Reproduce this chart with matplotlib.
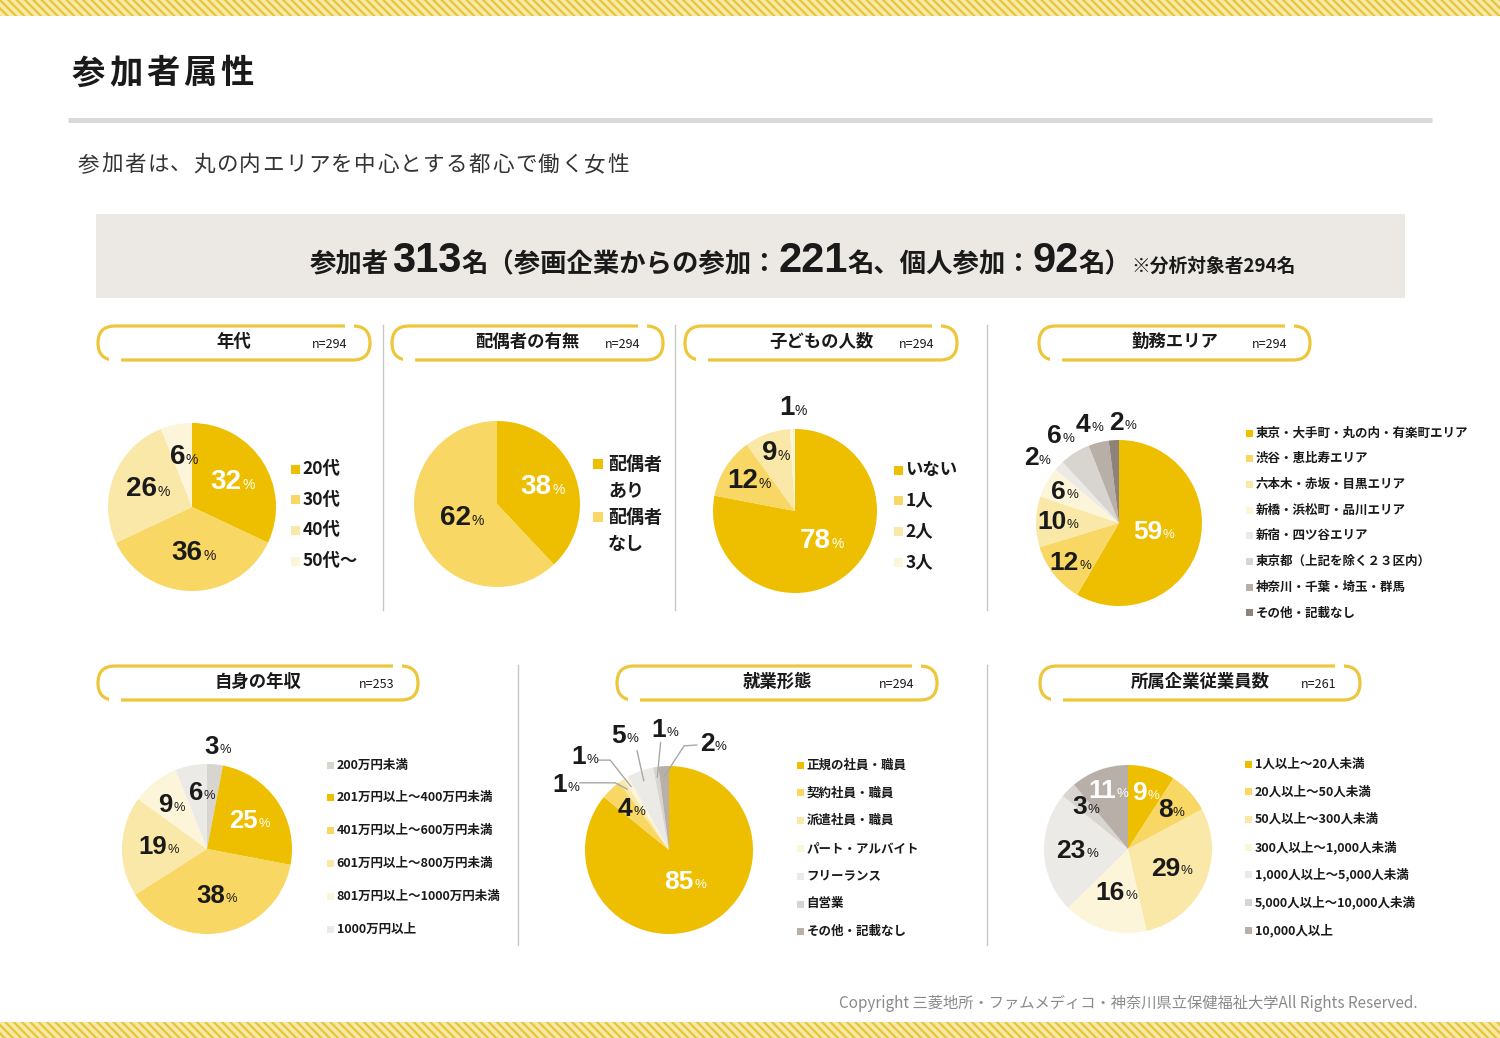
import matplotlib
matplotlib.use('Agg')
import matplotlib.pyplot as plt
from matplotlib.patches import Rectangle, FancyBboxPatch
import numpy as np

# ---------------- data ----------------
total_participants = 313
corporate_participants = 221
individual_participants = 92
analyzed_participants = 294

age_labels = ['20代', '30代', '40代', '50代～']
age_values = [32, 36, 26, 6]
age_n = 294

spouse_labels = ['配偶者\nあり', '配偶者\nなし']
spouse_values = [38, 62]
spouse_n = 294

child_labels = ['いない', '1人', '2人', '3人']
child_values = [78, 12, 9, 1]
child_n = 294

area_labels = ['東京・大手町・丸の内・有楽町エリア', '渋谷・恵比寿エリア', '六本木・赤坂・目黒エリア',
               '新橋・浜松町・品川エリア', '新宿・四ツ谷エリア', '東京都（上記を除く２３区内）',
               '神奈川・千葉・埼玉・群馬', 'その他・記載なし']
area_values = [59, 12, 10, 6, 2, 6, 4, 2]
area_n = 294

income_labels = ['200万円未満', '201万円以上～400万円未満', '401万円以上～600万円未満',
                 '601万円以上～800万円未満', '801万円以上～1000万円未満', '1000万円以上']
income_values = [3, 25, 38, 19, 9, 6]
income_n = 253

job_labels = ['正規の社員・職員', '契約社員・職員', '派遣社員・職員', 'パート・アルバイト',
              'フリーランス', '自営業', 'その他・記載なし']
job_values = [85, 4, 1, 1, 5, 1, 2]
job_n = 294

size_labels = ['1人以上～20人未満', '20人以上～50人未満', '50人以上～300人未満',
               '300人以上～1,000人未満', '1,000人以上～5,000人未満',
               '5,000人以上～10,000人未満', '10,000人以上']
size_values = [9, 8, 29, 16, 23, 3, 11]
size_n = 261

# ---------------- style ----------------
W, H = 1500, 1038
plt.rcParams['font.family'] = ['Noto Sans CJK JP', 'DejaVu Sans']
plt.rcParams['hatch.linewidth'] = 1.6
NUMF = ['Liberation Sans', 'DejaVu Sans']

DARK = '#EDBF00'
MED = '#F8D764'
LIGHT = '#FAE8A8'
VLIGHT = '#FDF5DA'
G1 = '#ECEAE7'
G2 = '#D8D4D0'
G3 = '#B8AFA8'
G4 = '#8F8279'
PILL = '#EEC63C'
TXT = '#1a1a1a'

fig = plt.figure(figsize=(W / 100, H / 100), dpi=100)
bg = fig.add_axes([0, 0, 1, 1])
bg.set_xlim(0, W)
bg.set_ylim(H, 0)
bg.axis('off')

# stripes
for y0 in (0, 1022):
    bg.add_patch(Rectangle((0, y0), W, 16, facecolor='#F6E8A6', edgecolor='#E6C53A',
                           hatch='\\\\\\\\', lw=0))

# title
for i, ch in enumerate('参加者属性'):
    bg.text(72 + i * 37, 74, ch, fontsize=24, fontweight='bold', va='center', ha='left', color=TXT)
bg.plot([68, 1432], [120, 120], color='#D9D9D9', lw=3.5, solid_capstyle='butt')
for i, ch in enumerate('参加者は、丸の内エリアを中心とする都心で働く女性'):
    bg.text(78 + i * 23, 165, ch, fontsize=15.5, va='center', ha='left', color='#333333')

# header box
bg.add_patch(Rectangle((96, 214), 1309, 84, facecolor='#ECE9E5', lw=0))
fig.canvas.draw()
renderer = fig.canvas.get_renderer()
parts = [
    ('参加者', 19, None), (' ', 10, None), (str(total_participants), 30, NUMF),
    ('名（参画企業からの参加：', 19, None), (str(corporate_participants), 30, NUMF),
    ('名、個人参加：', 19, None), (str(individual_participants), 30, NUMF),
    ('名）', 19, None), ('※分析対象者' + str(analyzed_participants) + '名', 13.5, None),
]
x = 310
for t, s, fam in parts:
    kw = dict(fontsize=s, fontweight='bold', va='baseline', ha='left', color=TXT)
    if fam:
        kw['family'] = fam
    tx = bg.text(x, 272, t, **kw)
    x += tx.get_window_extent(renderer).width


# section pills
def pill(x0, x1, yc, title, n, h=34):
    bg.add_patch(FancyBboxPatch((x0, yc - h / 2), x1 - x0, h,
                                boxstyle=f"round,pad=0,rounding_size={h / 2}",
                                facecolor='white', edgecolor=PILL, lw=2.3))
    bg.add_patch(Rectangle((x1 - 25, yc - h / 2 - 3), 9, 6, facecolor='white', lw=0))
    bg.add_patch(Rectangle((x0 + 11, yc + h / 2 - 3), 12, 6, facecolor='white', lw=0))
    bg.text((x0 + x1) / 2, yc - 1, title, fontsize=12.5, fontweight='bold', ha='center',
            va='center', color=TXT)
    bg.text(x1 - 23, yc + 2, f'n={n}', fontsize=9, ha='right', va='center', color=TXT)


pill(98, 370, 343, '年代', age_n)
pill(392, 663, 343, '配偶者の有無', spouse_n)
pill(685, 957, 343, '子どもの人数', child_n)
pill(1039, 1310, 343, '勤務エリア', area_n)
pill(98, 418, 683, '自身の年収', income_n)
pill(617, 937, 683, '就業形態', job_n)
pill(1040, 1360, 683, '所属企業従業員数', size_n)

# dividers
for xd, ya, yb in [(383, 325, 610), (675, 325, 610), (987, 325, 610), (518, 665, 945), (987, 665, 945)]:
    bg.plot([xd, xd], [ya, yb], color='#C8C8C8', lw=1)

# footer
bg.text(1418, 1003, 'Copyright 三菱地所・ファムメディコ・神奈川県立保健福祉大学All Rights Reserved.',
        fontsize=11, ha='right', va='center', color='#8a8a8a')


def pct_label(ax, x, y, v, color, size=20):
    t = ax.annotate(str(v), (x, y), xytext=(-3.5, 0), textcoords='offset points', ha='center',
                    va='center', fontsize=size, fontweight='bold', family=NUMF, color=color,
                    annotation_clip=False)
    ax.annotate('%', xy=(1, 0), xycoords=t, xytext=(0.3, 2.2), textcoords='offset points',
                ha='left', va='bottom', fontsize=size * 0.5, family=NUMF, color=color,
                annotation_clip=False)


def draw_pie(cx, cy, r, values, colors, lab_colors, dists, size=20, skip=(), pos=None):
    ax = fig.add_axes([(cx - r) / W, 1 - (cy + r) / H, 2 * r / W, 2 * r / H])
    wedges, _ = ax.pie(values, colors=colors, startangle=90, counterclock=False,
                       wedgeprops=dict(linewidth=0))
    ax.set_xlim(-1, 1)
    ax.set_ylim(-1, 1)
    ax.set_aspect('equal')
    ax.axis('off')
    pos = pos or {}
    mids = []
    for i, (w, v) in enumerate(zip(wedges, values)):
        mid = np.deg2rad((w.theta1 + w.theta2) / 2)
        mids.append(mid)
        if i in skip:
            continue
        if i in pos:
            px, py = pos[i]
        else:
            px, py = dists[i] * np.cos(mid), dists[i] * np.sin(mid)
        pct_label(ax, px, py, v, lab_colors[i], size)
    return ax, mids


def legend(x, y0, step, labels, colors, size=9, msize=8, gap=3, line_step=27):
    for i, (lab, col) in enumerate(zip(labels, colors)):
        y = y0 + i * step
        bg.add_patch(Rectangle((x - msize / 2, y - msize / 2), msize, msize, facecolor=col, lw=0))
        for j, line in enumerate(lab.split('\n')):
            bg.text(x + msize / 2 + gap, y + j * line_step, line, fontsize=size, fontweight='bold',
                    ha='left', va='center', color=TXT)


W_ = 'white'
K_ = TXT

# pie 1 年代
c1 = [DARK, MED, LIGHT, VLIGHT]
draw_pie(192, 507, 84, age_values, c1, [W_, K_, K_, K_], [0.55, 0.55, 0.58, 0.6])
legend(295, 469, 30.7, age_labels, c1, size=12.5, msize=9, gap=3)

# pie 2 配偶者
c2 = [DARK, MED]
draw_pie(497, 504, 83, spouse_values, c2, [W_, K_], [0.57, 0.47])
legend(598, 464, 53, spouse_labels, c2, size=13, msize=10, gap=5, line_step=27.5)

# pie 3 子ども
c3 = [DARK, MED, LIGHT, VLIGHT]
draw_pie(795, 511, 82, child_values, c3, [W_, K_, K_, K_], [0.48, 0.69, 0.75, 1.26])
legend(898, 470, 30.7, child_labels, c3, size=12.5, msize=9, gap=3)

# pie 4 勤務エリア
c4 = [DARK, MED, LIGHT, VLIGHT, G1, G2, G3, G4]
draw_pie(1119, 523, 83, area_values, c4, [W_] + [K_] * 7,
         [0.42, 0.77, 0.75, 0.77, 1.26, 1.27, 1.23, 1.2], size=19,
         pos={4: (-1.0, 0.78), 5: (-0.72, 1.05), 6: (-0.37, 1.18), 7: (0.03, 1.2)})
legend(1249, 433, 25.7, area_labels, c4, size=9, msize=7, gap=3)

# pie 5 年収
c5 = [G2, DARK, MED, LIGHT, VLIGHT, G1]
draw_pie(207, 849, 85, income_values, c5, [K_, W_, K_, K_, K_, K_],
         [1.21, 0.59, 0.56, 0.58, 0.66, 0.66], size=18.5,
         pos={4: (-0.43, 0.52), 5: (-0.07, 0.66)})
legend(330, 765, 32.8, income_labels, c5, size=9, msize=7, gap=3)

# pie 6 就業形態
c6 = [DARK, MED, LIGHT, VLIGHT, G1, G2, G3]
ax6, mids6 = draw_pie(669, 850, 84, job_values, c6, [W_] + [K_] * 6,
                      [0.42, 0.67, 0, 0, 0, 0, 0], size=19, skip=(2, 3, 4, 5, 6))
# leader-line labels: (slice index, text pos, line start, elbow)
leaders = [
    (2, (-1.24, 0.77), (-1.06, 0.80), (-0.64, 0.80)),
    (3, (-1.02, 1.11), (-0.84, 1.07), (-0.70, 1.07)),
    (4, (-0.54, 1.36), (-0.38, 1.18), None),
    (5, (-0.06, 1.43), (-0.10, 1.28), None),
    (6, (0.51, 1.26), (0.33, 1.25), (0.18, 1.24)),
]
for idx, tp, st, el in leaders:
    end = (0.88 * np.cos(mids6[idx]), 0.88 * np.sin(mids6[idx]))
    pts = [st] + ([el] if el else []) + [end]
    ax6.plot([p[0] for p in pts], [p[1] for p in pts], color='#A8A8A8', lw=1, clip_on=False)
    pct_label(ax6, tp[0], tp[1], job_values[idx], K_, 19)
legend(800, 765, 27.8, job_labels, c6, size=9, msize=7, gap=3)

# pie 7 従業員数
c7 = [DARK, MED, LIGHT, VLIGHT, G1, G2, G3]
draw_pie(1128, 849, 84, size_values, c7, [W_, K_, K_, K_, K_, K_, W_],
         [0.69, 0.68, 0.56, 0.55, 0.62, 0.72, 0.74], size=19)
legend(1248, 764, 27.7, size_labels, c7, size=9, msize=7, gap=3)

fig.savefig('out.png', dpi=100)
